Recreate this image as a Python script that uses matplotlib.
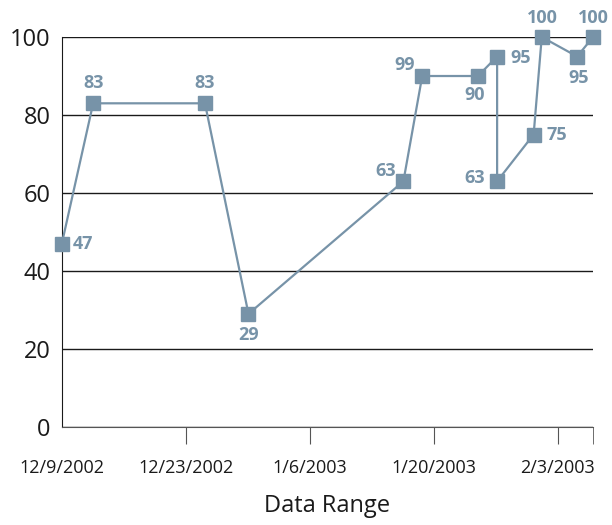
import pandas as pd
import matplotlib.pyplot as plt

dates = pd.to_datetime([
    "2002-12-09 00:00", "2002-12-12 13:00", "2002-12-25 04:00", "2002-12-30 02:00",
    "2003-01-16 14:00", "2003-01-18 17:00", "2003-01-25 00:00", "2003-01-27 04:00",
    "2003-01-27 04:00", "2003-01-31 07:00", "2003-02-01 05:00", "2003-02-05 05:00",
    "2003-02-07 00:00",
])
values = [47, 83, 83, 29, 63, 90, 90, 95, 63, 75, 100, 95, 100]
labels = ["47", "83", "83", "29", "63", "99", "90", "95", "63", "75", "100", "95", "100"]
tick_dates = pd.to_datetime(["2002-12-09", "2002-12-23", "2003-01-06", "2003-01-20", "2003-02-03"])
tick_labels = ["12/9/2002", "12/23/2002", "1/6/2003", "1/20/2003", "2/3/2003"]
x_end = pd.Timestamp("2003-02-07")

# label placement: (dx px, dy px up, ha)
place = [(11, 0, "left"), (0, 20, "center"), (0, 20, "center"), (0, -21, "center"),
         (-7, 10, "right"), (-7, 11, "right"), (-3, -19, "center"), (13, -1, "left"),
         (-12, 3, "right"), (13, 0, "left"), (1, 19, "center"), (1, -21, "center"),
         (0, 19, "center")]

color = "#7793a8"
plt.rcParams["font.family"] = ["Open Sans", "DejaVu Sans"]

fig = plt.figure(figsize=(6.12, 5.25), dpi=100)
ax = fig.add_axes([0.101, 0.1867, 0.868, 0.7428])

ax.plot(dates, values, color=color, lw=1.6, marker="s", ms=10, zorder=3, clip_on=False)
for d, v, t, (dx, dy, ha) in zip(dates, values, labels, place):
    ax.annotate(t, (d, v), xytext=(dx, dy), textcoords="offset pixels",
                ha=ha, va="center", color=color, fontsize=13, fontweight="bold")

ax.set_ylim(0, 100)
ax.set_yticks([0, 20, 40, 60, 80, 100])
ax.yaxis.grid(True, color="#1a1a1a", lw=1)
ax.set_axisbelow(True)
ax.tick_params(axis="y", length=0, labelsize=17, pad=8, labelcolor="#1a1a1a")

ax.set_xlim(tick_dates[0], x_end)
ax.set_xticks(tick_dates)
ax.set_xticklabels(tick_labels)
ax.set_xticks([x_end], minor=True)
ax.tick_params(axis="x", which="both", length=12, color="#555555", labelsize=13,
               pad=11, labelcolor="#1a1a1a")
ax.xaxis.get_major_ticks()[0].tick1line.set_visible(False)
ax.set_xlabel("Data Range", fontsize=17, labelpad=12, color="#1a1a1a")

for s in ["top", "right"]:
    ax.spines[s].set_visible(False)
ax.spines["left"].set_color("#1a1a1a")
ax.spines["bottom"].set_color("#555555")

fig.savefig("out.png", dpi=100)
